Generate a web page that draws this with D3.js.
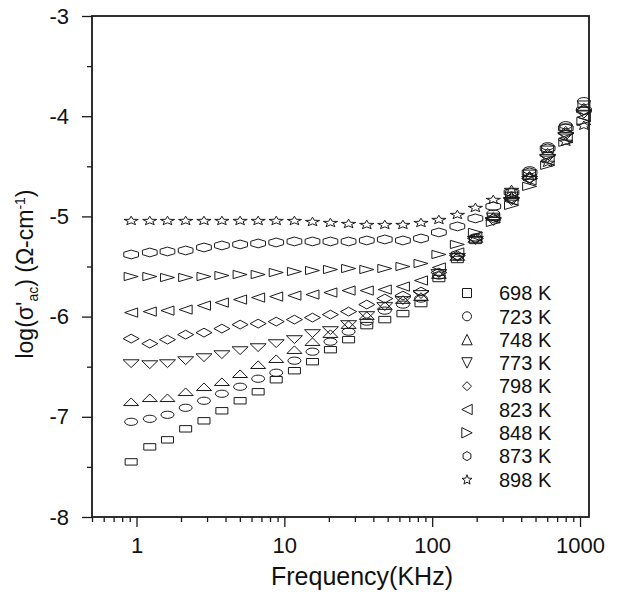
<!DOCTYPE html>
<html>
<head>
<meta charset="utf-8">
<script src="https://cdn.jsdelivr.net/npm/d3@7"></script>
<style>
  body { margin: 0; background: #fff; }
  text { font-family: "Liberation Sans", Arial, Helvetica, sans-serif; fill: #111; }
</style>
</head>
<body>
<div id="main"></div>
<script>
// frequencies in KHz
const freqs = [0.92, 1.23, 1.62, 2.15, 2.86, 3.78, 5.02, 6.65, 8.81, 11.7, 15.5, 20.5, 27.2,
               36.1, 47.8, 63.4, 84.0, 111, 148, 196, 259, 344, 456, 604, 801, 1062];

const temps = ["698 K", "723 K", "748 K", "773 K", "798 K", "823 K", "848 K", "873 K", "898 K"];
const shapes = ["square", "circle", "up", "down", "diamond", "left", "right", "hexagon", "star"];

const v698 = [-7.45,-7.30,-7.23,-7.12,-7.04,-6.94,-6.84,-6.75,-6.63,-6.54,-6.45,-6.33,-6.23,-6.09,-6.03,-5.97,-5.87,-5.62,-5.43,-5.24,-5.00,-4.79,-4.57,-4.33,-4.11,-3.88];
const v723 = [-7.05,-7.02,-6.98,-6.91,-6.84,-6.77,-6.70,-6.62,-6.56,-6.44,-6.35,-6.25,-6.15,-6.05,-5.94,-5.88,-5.82,-5.59,-5.40,-5.21,-4.97,-4.76,-4.54,-4.30,-4.09,-3.85];
const v748 = [-6.85,-6.81,-6.81,-6.75,-6.70,-6.65,-6.57,-6.48,-6.42,-6.33,-6.25,-6.17,-6.08,-5.99,-5.89,-5.83,-5.80,-5.58,-5.40,-5.22,-5.00,-4.80,-4.59,-4.36,-4.14,-3.91];
const v773 = [-6.47,-6.48,-6.47,-6.44,-6.41,-6.38,-6.34,-6.31,-6.27,-6.23,-6.17,-6.14,-6.08,-5.99,-5.90,-5.84,-5.78,-5.57,-5.41,-5.24,-5.05,-4.85,-4.64,-4.42,-4.20,-3.98];
const v798 = [-6.22,-6.27,-6.23,-6.18,-6.16,-6.12,-6.08,-6.07,-6.05,-6.03,-6.01,-5.98,-5.95,-5.88,-5.82,-5.79,-5.75,-5.56,-5.39,-5.22,-5.02,-4.82,-4.62,-4.39,-4.17,-3.94];
const v823 = [-5.96,-5.95,-5.94,-5.93,-5.89,-5.86,-5.83,-5.81,-5.80,-5.79,-5.78,-5.76,-5.74,-5.74,-5.73,-5.70,-5.64,-5.51,-5.36,-5.20,-5.02,-4.84,-4.64,-4.44,-4.22,-4.01];
const v848 = [-5.60,-5.60,-5.61,-5.61,-5.60,-5.59,-5.58,-5.58,-5.56,-5.55,-5.54,-5.53,-5.52,-5.53,-5.52,-5.50,-5.47,-5.38,-5.28,-5.16,-5.06,-4.89,-4.70,-4.49,-4.26,-4.05];
const v873 = [-5.38,-5.36,-5.35,-5.34,-5.31,-5.29,-5.28,-5.27,-5.26,-5.25,-5.25,-5.25,-5.25,-5.24,-5.23,-5.24,-5.22,-5.16,-5.10,-5.02,-4.90,-4.76,-4.56,-4.32,-4.12,-3.94];
const v898 = [-5.04,-5.04,-5.04,-5.04,-5.04,-5.04,-5.04,-5.04,-5.04,-5.04,-5.05,-5.06,-5.07,-5.08,-5.08,-5.08,-5.06,-5.03,-4.98,-4.91,-4.83,-4.73,-4.60,-4.46,-4.25,-4.09];

const seriesValues = [v698, v723, v748, v773, v798, v823, v848, v873, v898];

const yMajor = [-8, -7, -6, -5, -4, -3];
const yMinor = [-7.5, -6.5, -5.5, -4.5, -3.5];
const xMajor = [1, 10, 100, 1000];
const xMinor = [0.5, 0.6, 0.7, 0.8, 0.9, 2, 3, 4, 5, 6, 7, 8, 9,
                20, 30, 40, 50, 60, 70, 80, 90, 200, 300, 400, 500, 600, 700, 800, 900];

const ctx = {
    w: 617,
    h: 593,
    left: 92,
    top: 16,
    right: 589,
    bottom: 517,
    STROKE: "#1a1a1a",
};

// half width / half height of the (squashed) plot markers
const markerSize = {
    square: [6, 3.2], circle: [6.5, 3.6], up: [7.5, 3.8], down: [8, 3.9], diamond: [8, 4.4],
    left: [6.5, 4.6], right: [7, 4.1], hexagon: [8.5, 4.4], star: [7.5, 4.7]
};

function shapePath(kind, rx, ry){
    let pts;
    if (kind === "circle"){
        return "M" + (-rx) + ",0A" + rx + "," + ry + " 0 1,0 " + rx + ",0A" + rx + "," + ry + " 0 1,0 " + (-rx) + ",0Z";
    }
    if (kind === "square") pts = [[-1,-1],[1,-1],[1,1],[-1,1]];
    if (kind === "up") pts = [[0,-1],[1,1],[-1,1]];
    if (kind === "down") pts = [[-1,-1],[1,-1],[0,1]];
    if (kind === "diamond") pts = [[0,-1],[1,0],[0,1],[-1,0]];
    if (kind === "left") pts = [[-1,0],[1,-1],[1,1]];
    if (kind === "right") pts = [[1,0],[-1,-1],[-1,1]];
    if (kind === "hexagon") pts = d3.range(6).map(k => {
        let a = -Math.PI/2 + k*Math.PI/3;
        return [Math.cos(a), Math.sin(a)];
    });
    if (kind === "star") pts = d3.range(10).map(k => {
        let a = -Math.PI/2 + k*Math.PI/5;
        let r = (k % 2 === 0) ? 1 : 0.42;
        return [r*Math.cos(a), r*Math.sin(a) + 0.1];
    });
    return "M" + pts.map(p => (p[0]*rx).toFixed(2) + "," + (p[1]*ry).toFixed(2)).join("L") + "Z";
}

function createViz(){
    let svg = d3.select("#main").append("svg")
        .attr("width", ctx.w)
        .attr("height", ctx.h);

    let x = d3.scaleLog().domain([0.5, 1150]).range([ctx.left, ctx.right]);
    let y = d3.scaleLinear().domain([-8, -3]).range([ctx.bottom, ctx.top]);

    // axes (ticks outward), plain hyphen for negatives like the original
    svg.append("g").attr("transform", "translate(" + ctx.left + ",0)")
        .call(d3.axisLeft(y).tickValues(yMajor).tickSize(10).tickPadding(13).tickFormat(d => String(d)));
    svg.append("g").attr("transform", "translate(" + ctx.left + ",0)")
        .call(d3.axisLeft(y).tickValues(yMinor).tickSize(5).tickFormat(""));
    svg.append("g").attr("transform", "translate(0," + ctx.bottom + ")")
        .call(d3.axisBottom(x).tickValues(xMajor).tickSize(10).tickPadding(10).tickFormat(d => String(d)));
    svg.append("g").attr("transform", "translate(0," + ctx.bottom + ")")
        .call(d3.axisBottom(x).tickValues(xMinor).tickSize(5).tickFormat(""));

    svg.selectAll(".domain").remove();
    svg.selectAll(".tick line").attr("stroke", ctx.STROKE).attr("stroke-width", 1.3);
    svg.selectAll(".tick text").attr("font-size", 22).attr("fill", "#111")
        .attr("font-family", "'Liberation Sans', Arial, sans-serif");

    // frame
    svg.append("rect")
        .attr("x", ctx.left).attr("y", ctx.top)
        .attr("width", ctx.right - ctx.left).attr("height", ctx.bottom - ctx.top)
        .attr("fill", "none").attr("stroke", ctx.STROKE).attr("stroke-width", 1.8);

    // data points
    let marks = svg.append("g").attr("id", "marks");
    seriesValues.forEach(function(vals, s){
        let kind = shapes[s];
        let sz = markerSize[kind];
        let path = shapePath(kind, sz[0], sz[1]);
        marks.append("g").selectAll("path")
            .data(vals.map((v, i) => ({f: freqs[i], v: v})))
            .enter()
            .append("path")
            .attr("d", path)
            .attr("transform", d => "translate(" + x(d.f) + "," + y(d.v) + ")")
            .attr("fill", "none")
            .attr("stroke", ctx.STROKE)
            .attr("stroke-width", 1);
    });

    // legend
    let legend = svg.append("g").attr("id", "legend");
    temps.forEach(function(t, i){
        let ly = 293 + i*23.3;
        let r = (shapes[i] === "up" || shapes[i] === "down" || shapes[i] === "left" || shapes[i] === "right" || shapes[i] === "star") ? 5.2 : 4.5;
        legend.append("path")
            .attr("d", shapePath(shapes[i], r, r))
            .attr("transform", "translate(467," + ly + ")")
            .attr("fill", "none").attr("stroke", ctx.STROKE).attr("stroke-width", 1);
        legend.append("text")
            .attr("x", 499).attr("y", ly).attr("dy", "0.36em")
            .attr("font-size", 20)
            .text(t);
    });

    // axis titles
    svg.append("text")
        .attr("x", 362).attr("y", 585)
        .attr("text-anchor", "middle")
        .attr("font-size", 25)
        .text("Frequency(KHz)");

    let yt = svg.append("text")
        .attr("transform", "translate(33,274) rotate(-90)")
        .attr("text-anchor", "middle")
        .attr("font-size", 23);
    yt.append("tspan").text("log(σ'");
    yt.append("tspan").attr("font-size", 14).attr("dy", 5).text("ac");
    yt.append("tspan").attr("dy", -5).text(") (Ω-cm");
    yt.append("tspan").attr("font-size", 14).attr("dy", -8).text("-1");
    yt.append("tspan").attr("dy", 8).text(")");
}

createViz();
</script>
</body>
</html>
